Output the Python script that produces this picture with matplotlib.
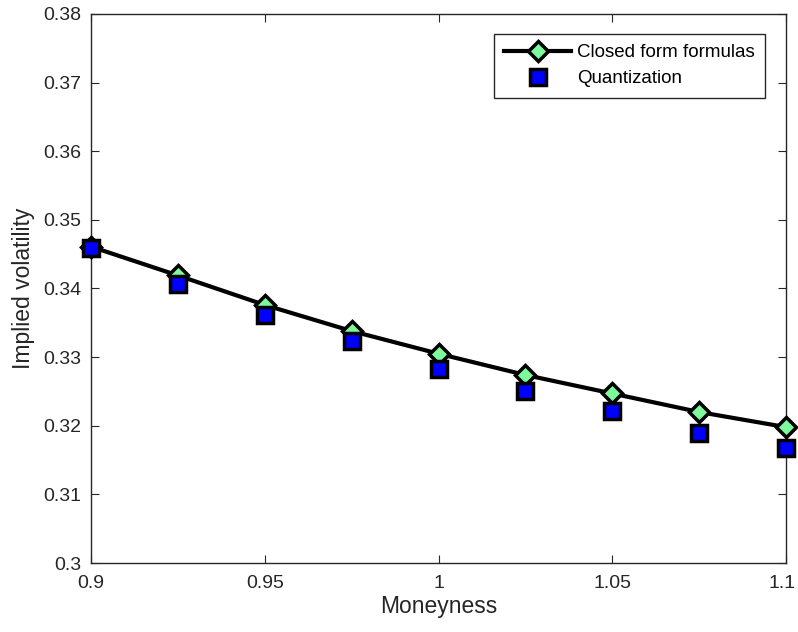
import numpy as np
import matplotlib
matplotlib.use("Agg")
import matplotlib.pyplot as plt
import matplotlib.transforms as mtransforms

plt.rcParams['font.family'] = ['Liberation Sans', 'DejaVu Sans']

# moneyness grid and implied vols
moneyness = [0.9, 0.925, 0.95, 0.975, 1.0, 1.025, 1.05, 1.075, 1.1]
iv_closed = [0.3461, 0.3419, 0.3376, 0.3338, 0.3305, 0.3274, 0.3247, 0.3220, 0.3198]
iv_quant = [0.3459, 0.3406, 0.3361, 0.3324, 0.3282, 0.3251, 0.3222, 0.3189, 0.3167]

xticks = [0.9, 0.95, 1.0, 1.05, 1.1]
yticks = [0.30, 0.31, 0.32, 0.33, 0.34, 0.35, 0.36, 0.37, 0.38]

axcol = '#262626'

fig = plt.figure(figsize=(7.98, 6.32), dpi=100)
ax = fig.add_axes([91/798, 1 - 563/632, (786 - 91)/798, (563 - 14)/632])

ax.plot(moneyness, iv_closed, color='black', lw=3, marker='D', ms=10,
        mfc='#7dfa9b', mec='black', mew=2.5, label='Closed form formulas',
        zorder=3, clip_on=False)
ax.plot(moneyness, iv_quant, ls='none', marker='s', ms=11,
        mfc='#0000ff', mec='black', mew=2.5, label='Quantization',
        zorder=4, clip_on=False)

ax.set_xlim(0.9, 1.1)
ax.set_ylim(0.3, 0.38)
ax.set_xticks(xticks)
ax.set_yticks(yticks)
ax.set_xticklabels(['%g' % t for t in xticks])
ax.set_yticklabels(['%g' % t for t in yticks])

ax.tick_params(direction='in', length=5.5, width=0.8, colors=axcol,
               labelsize=14, top=True, right=True)
ax.tick_params(axis='y', pad=7)
ax.tick_params(axis='x', pad=9)
for s in ax.spines.values():
    s.set_color(axcol)
    s.set_linewidth(1.0)

# nudge the last x label so it stays inside the figure
last = ax.get_xticklabels()[-1]
last.set_transform(last.get_transform() +
                   mtransforms.ScaledTranslation(-4/100, 0, fig.dpi_scale_trans))

ax.set_xlabel('Moneyness', fontsize=16.5, color=axcol, labelpad=2)
ax.set_ylabel('Implied volatility', fontsize=16.5, color=axcol, labelpad=6)

leg = ax.legend(loc='upper right', bbox_to_anchor=(765/798, 1 - 34/632),
                bbox_transform=fig.transFigure,
                fontsize=13.5, frameon=True, fancybox=False, framealpha=1,
                handlelength=3.6, handletextpad=0.3, labelspacing=0.47,
                borderpad=0.55, borderaxespad=0)
leg.get_frame().set_edgecolor(axcol)
leg.get_frame().set_linewidth(1.0)

fig.savefig('out.png', dpi=100)
